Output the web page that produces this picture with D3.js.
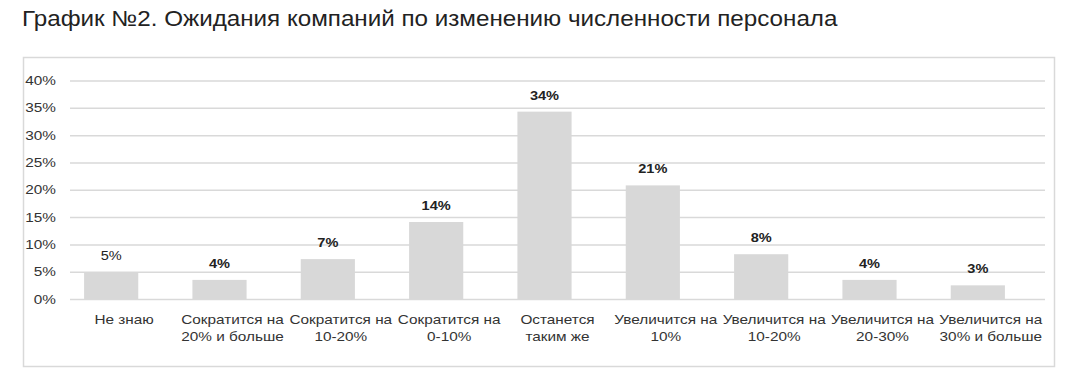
<!DOCTYPE html>
<html>
<head>
<meta charset="utf-8">
<script src="https://cdn.jsdelivr.net/npm/d3@7"></script>
<style>
  body { margin: 0; background: #fff; font-family: "Liberation Sans", Arial, sans-serif; }
  .grid line { stroke: #d9d9d9; stroke-width: 1.5; }
  .grid path { display: none; }
  .y-label { font-size: 13px; fill: #333; }
  .cat-label { font-size: 13px; fill: #333; }
  .val-label { font-size: 13px; font-weight: bold; fill: #222; }
</style>
</head>
<body>
<svg id="chart" width="1072" height="381"></svg>
<script>
const chartTitle = 'График №2. Ожидания компаний по изменению численности персонала';

const categories = [
    ['Не знаю'],
    ['Сократится на', '20% и больше'],
    ['Сократится на', '10-20%'],
    ['Сократится на', '0-10%'],
    ['Останется', 'таким же'],
    ['Увеличится на', '10%'],
    ['Увеличится на', '10-20%'],
    ['Увеличится на', '20-30%'],
    ['Увеличится на', '30% и больше']
];

const values = [4.9, 3.5, 7.3, 14.1, 34.3, 20.8, 8.2, 3.5, 2.5];

const yTicks = [0, 5, 10, 15, 20, 25, 30, 35, 40];

// the source picture is a bit stretched sideways
const stretch = 1.18;

const svg = d3.select('#chart');

// frame
svg.append('rect')
    .attr('x', 23.5)
    .attr('y', 57.5)
    .attr('width', 1031)
    .attr('height', 309)
    .attr('fill', 'none')
    .attr('stroke', '#d9d9d9')
    .attr('stroke-width', 1.5);

// title
svg.append('text')
    .attr('transform', 'translate(22,26) scale(1.1,1)')
    .style('font-size', '22px')
    .style('fill', '#222')
    .text(chartTitle);

const x = d3.scaleBand()
    .domain(d3.range(categories.length))
    .range([70, 1045])
    .paddingInner(0.5)
    .paddingOuter(0.25);

const y = d3.scaleLinear()
    .domain([0, 40])
    .range([299, 80.5]);

const barShift = -13; // bars sit a bit left of their labels in the original

// gridlines
svg.append('g')
    .attr('class', 'grid')
    .attr('transform', 'translate(70,0)')
    .call(d3.axisLeft(y).tickValues(yTicks).tickSize(-975).tickFormat(''));

// y labels
svg.selectAll('.y-label')
    .data(yTicks)
    .join('text')
    .attr('class', 'y-label')
    .attr('text-anchor', 'end')
    .attr('transform', d => `translate(56,${y(d) + 4.5}) scale(${stretch},1)`)
    .text(d => d + '%');

// bars
svg.selectAll('.bar')
    .data(values)
    .join('rect')
    .attr('class', 'bar')
    .attr('x', (d, i) => x(i) + barShift)
    .attr('y', d => y(d))
    .attr('width', x.bandwidth())
    .attr('height', d => y(0) - y(d))
    .attr('fill', '#d8d8d8');

// value labels
svg.selectAll('.val-label')
    .data(values)
    .join('text')
    .attr('class', 'val-label')
    .attr('text-anchor', 'middle')
    .attr('transform', (d, i) => `translate(${x(i) + barShift + x.bandwidth() / 2},${y(d) - 12}) scale(1.12,1)`)
    .style('font-weight', (d, i) => i === 0 ? 'normal' : 'bold')
    .text(d => Math.round(d) + '%');

// category labels
const cat = svg.selectAll('.cat-label')
    .data(categories)
    .join('text')
    .attr('class', 'cat-label')
    .attr('text-anchor', 'middle')
    .attr('transform', (d, i) => `translate(${x(i) + x.bandwidth() / 2},324) scale(${stretch},1)`);

cat.selectAll('tspan')
    .data(d => d)
    .join('tspan')
    .attr('x', 0)
    .attr('y', (d, j) => j * 17)
    .text(d => d);
</script>
</body>
</html>
